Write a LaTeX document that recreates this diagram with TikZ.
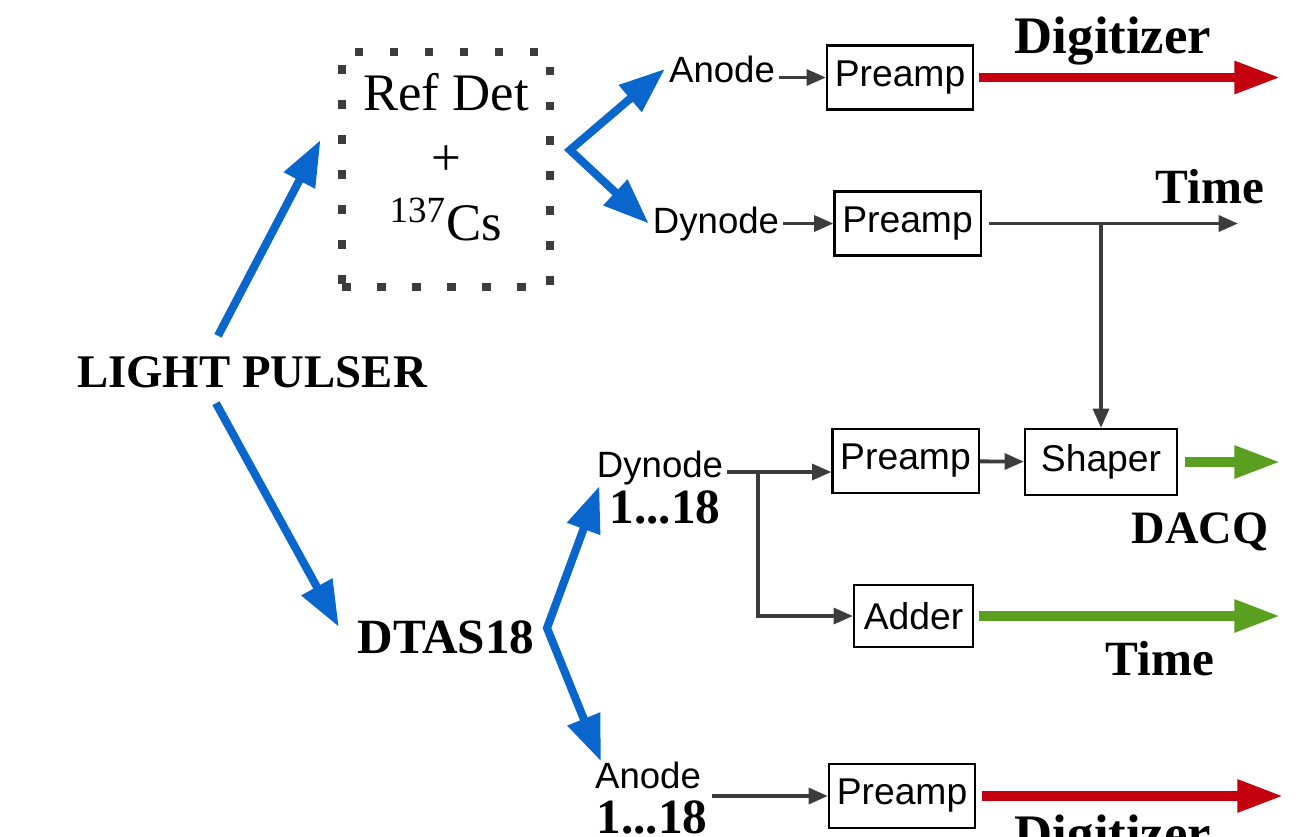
\documentclass[tikz,border=0pt]{standalone}
\usepackage{fontspec}
\setmainfont{Liberation Serif}
\setsansfont{Liberation Sans}
\usetikzlibrary{arrows.meta}
\definecolor{pblue}{HTML}{0866CC}
\definecolor{pred}{HTML}{C4000F}
\definecolor{pgreen}{HTML}{5A9F20}
\definecolor{dgray}{HTML}{3C3C3C}
\begin{document}
\begin{tikzpicture}[x=0.01cm, y=-0.01cm,
    big/.style={font=\bfseries\fontsize{14}{16}\selectfont, inner sep=1pt},
    lbl/.style={font=\sffamily\fontsize{10.4}{12}\selectfont, inner sep=1pt},
    blk/.style={draw, line width=0.6pt, minimum width=1.46cm, minimum height=0.64cm, inner sep=0pt, font=\sffamily\fontsize{10.6}{12}\selectfont},
    dotbox/.style={draw=dgray, line width=2.5pt, dash pattern=on 2.5pt off 7.45pt, minimum width=2.08cm, minimum height=2.35cm, inner sep=0pt},
    src/.style={font=\fontsize{15}{18.5}\selectfont, align=center, inner sep=1pt},
    bluearr/.style={draw=pblue, line width=2.3pt, -{Triangle[length=13pt, width=9.5pt]}},
    bluefork/.style={draw=pblue, line width=2.3pt, {Triangle[length=13pt, width=9.5pt]}-{Triangle[length=13pt, width=9.5pt]}},
    grayarr/.style={draw=dgray, line width=1.1pt, -{Triangle[length=5.5pt, width=4.5pt]}},
    redarr/.style={draw=pred, line width=2.6pt, -{Triangle[length=13pt, width=8.8pt]}},
    greenarr/.style={draw=pgreen, line width=2.6pt, -{Triangle[length=13pt, width=8.8pt]}}]
      \useasboundingbox (0,0) rectangle (1312,836);

      \node[big, font=\bfseries\fontsize{13.3}{16}\selectfont, anchor=base] (lp) at (252, 387) {LIGHT PULSER};
      \node[big, anchor=base] (dtas) at (446, 653) {DTAS18};
      \node[dotbox] (box) at (446, 169.5) {};
      \node[src] (ref) at (446, 157) {Ref Det\\+\\\textsuperscript{137}Cs};

      \node[lbl, anchor=base] (anA) at (722, 82) {Anode};
      \node[lbl, anchor=base] (dynA) at (716, 233) {Dynode};
      \node[lbl, anchor=base] (dynB) at (660, 477) {Dynode};
      \node[big, anchor=base] (nb) at (665, 523) {1...18};
      \node[lbl, anchor=base] (anB) at (648, 788) {Anode};
      \node[big, anchor=base] (nc) at (652, 833) {1...18};

      \node[blk] (pre1) at (900, 77.5) {Preamp};
      \node[blk] (pre2) at (907.5, 223.5) {Preamp};
      \node[blk] (pre3) at (905.5, 461) {Preamp};
      \node[blk, minimum width=1.52cm, minimum height=0.66cm] (shaper) at (1101, 462) {Shaper};
      \node[blk, minimum width=1.19cm, minimum height=0.62cm] (adder) at (913.5, 616) {Adder};
      \node[blk] (pre4) at (902, 796) {Preamp};

      \node[big, font=\bfseries\fontsize{15}{16}\selectfont, anchor=base] (digA) at (1113, 53) {Digitizer};
      \node[big, anchor=base] (timeA) at (1210, 203) {Time};
      \node[big, font=\bfseries\fontsize{13.2}{16}\selectfont, anchor=base] (dacq) at (1200, 543) {DACQ};
      \node[big, anchor=base] (timeB) at (1160, 675) {Time};
      \node[big, font=\bfseries\fontsize{15}{16}\selectfont, anchor=base] (digB) at (1113, 851) {Digitizer};

      \coordinate (fa) at (570, 150);
      \coordinate (fb) at (547, 628);
      \coordinate (br) at (758, 472);
      \coordinate (outA) at (1280, 77.5);
      \coordinate (outB) at (1238, 223.5);
      \coordinate (outC) at (1280, 462);
      \coordinate (outD) at (1280, 616);
      \coordinate (outE) at (1283, 796);

      \draw[bluearr] ([xshift=-0.34cm, yshift=0.16cm]lp.north) -- ([xshift=-0.17cm, yshift=0.295cm]box.west);
      \draw[bluearr] ([xshift=-0.36cm, yshift=-0.115cm]lp.south) -- ([xshift=-0.145cm, yshift=0.1cm]dtas.west);
      \draw[bluefork] (anA.west) -- (fa) -- (dynA.west);
      \draw[bluefork] ([xshift=-0.06cm]nb.north west) -- (fb) -- ([xshift=0.1cm, yshift=-0.04cm]anB.north west);

      \draw[grayarr] (anA.east |- pre1) -- (pre1.west);
      \draw[grayarr] (dynA.east |- pre2) -- (pre2.west);
      \draw[grayarr] ([xshift=0.07cm]pre2.east) -- (outB);
      \draw[grayarr] (shaper.north |- pre2) -- (shaper.north);
      \draw[grayarr] (pre3) -- (shaper);
      \draw[grayarr] (dynB.east |- br) -- (br -| pre3.west);
      \draw[grayarr] (br) |- (adder.west);
      \draw[grayarr] (nc.east |- pre4) -- (pre4.west);

      \draw[redarr] ([xshift=0.05cm]pre1.east) -- (outA);
      \draw[greenarr] ([xshift=0.07cm]shaper.east) -- (outC);
      \draw[greenarr] ([xshift=0.05cm]adder.east) -- (outD);
      \draw[redarr] ([xshift=0.06cm]pre4.east) -- (outE);
    \end{tikzpicture}
\end{document}
